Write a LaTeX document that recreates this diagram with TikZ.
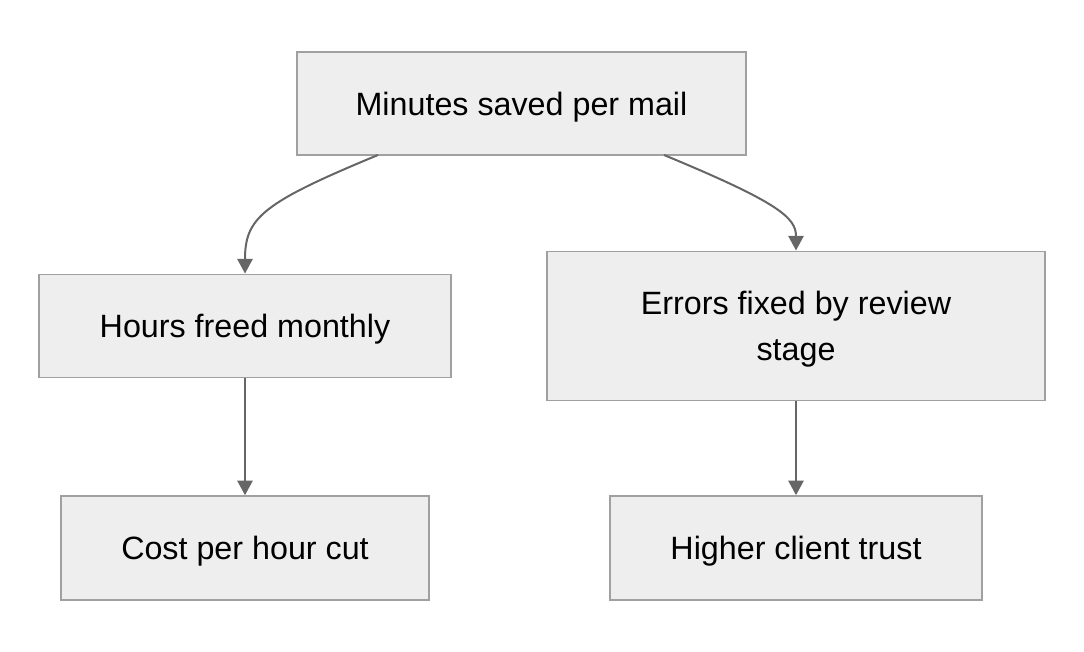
\documentclass[tikz,border=0pt]{standalone}
\usepackage{fontspec}
\setmainfont{Liberation Sans}
\usetikzlibrary{arrows.meta}
\definecolor{boxfill}{HTML}{EEEEEE}
\definecolor{boxline}{HTML}{A0A0A0}
\definecolor{edgeline}{HTML}{666666}
\begin{document}
\begin{tikzpicture}[x=0.75pt,y=-0.75pt,
  box/.style={draw=boxline,fill=boxfill,line width=1.2pt,rectangle,inner sep=0pt,
    font=\fontsize{24.2pt}{33.8pt}\selectfont,align=center,text=black,text depth=0pt},
  edge/.style={draw=edgeline,line width=1.5pt,-{Triangle[length=11pt,width=11.5pt]}}]
\useasboundingbox (0,0) rectangle (1084,652);
\node[box,minimum width=336.75pt,minimum height=77.25pt] (top) at (521.5,103.5) {Minutes saved per mail};
\node[box,minimum width=309pt,minimum height=77.25pt] (hours) at (245,325.8) {Hours freed monthly};
\node[box,minimum width=373.5pt,minimum height=111.75pt] (errors) at (796,325.8) {Errors fixed by review\\stage};
\node[box,minimum width=276pt,minimum height=78pt] (cost) at (245,548) {Cost per hour cut};
\node[box,minimum width=279pt,minimum height=78pt] (trust) at (796,548) {Higher client trust};
\coordinate (s1) at (378,155);
\coordinate (s2) at (664,155);
\draw[edge] (s1) .. controls (262,203) and (245,218) .. (hours.north);
\draw[edge] (s2) .. controls (780,203) and (796,218) .. (errors.north);
\draw[edge] (hours.south) -- (cost.north);
\draw[edge] (errors.south) -- (trust.north);
\end{tikzpicture}
\end{document}
